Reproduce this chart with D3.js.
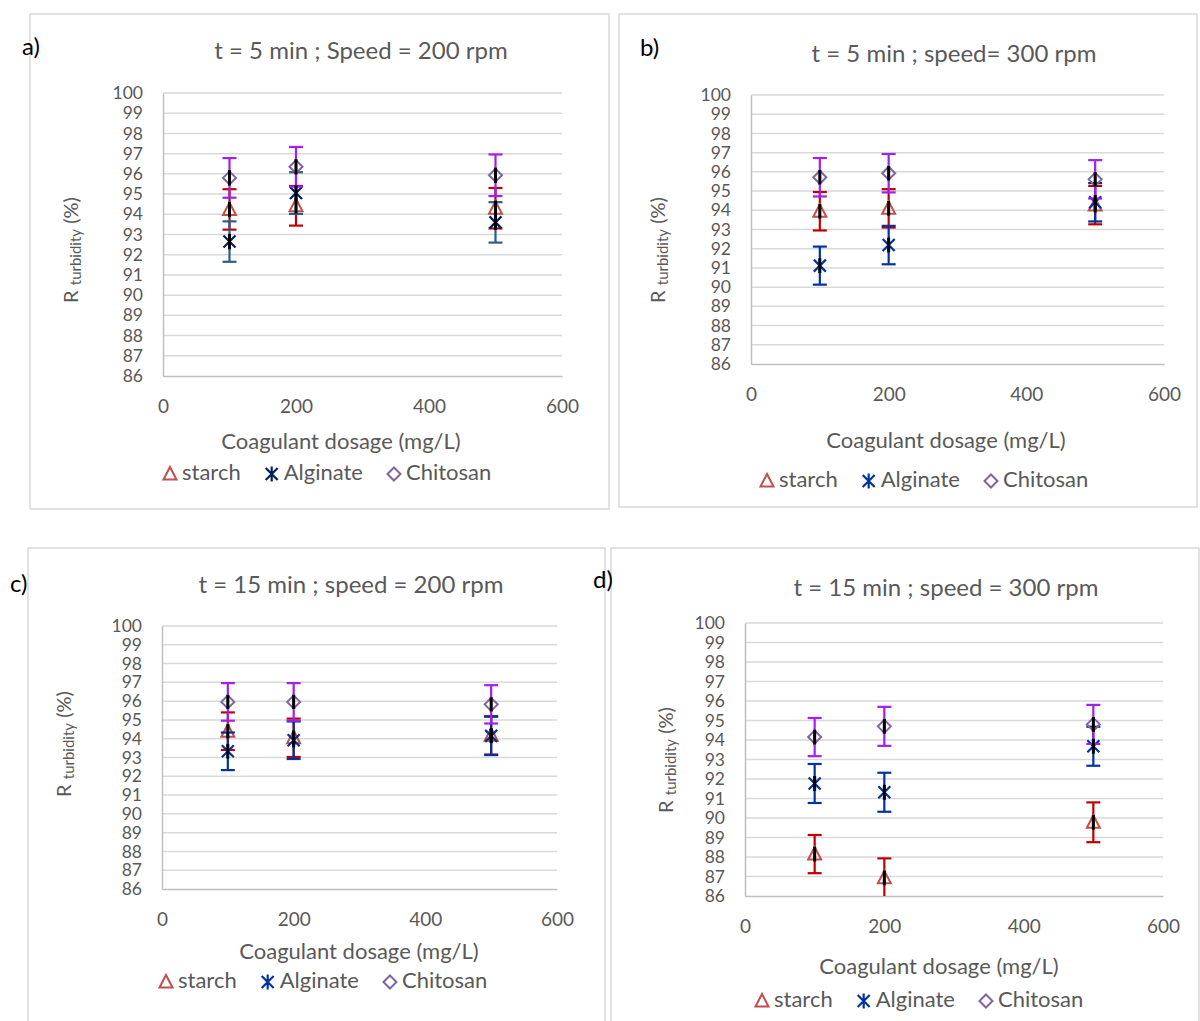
<!DOCTYPE html>
<html>
<head>
<meta charset="utf-8">
<script src="https://cdn.jsdelivr.net/npm/d3@7"></script>
<style>
  body { margin: 0; background: #fff; }
  text { font-family: Lato, "Open Sans", sans-serif; }
</style>
</head>
<body>
<svg id="chart"></svg>
<script>
// data
const dosage = [100, 200, 500];
const xTickValues = [0, 200, 400, 600];
const yTickValues = [86, 87, 88, 89, 90, 91, 92, 93, 94, 95, 96, 97, 98, 99, 100];
const seriesNames = ["starch", "Alginate", "Chitosan"];
const panelLetters = ["a)", "b)", "c)", "d)"];
const panelTitles = [
  "t = 5 min ; Speed = 200 rpm",
  "t = 5 min ; speed= 300 rpm",
  "t = 15 min ; speed = 200 rpm",
  "t = 15 min ; speed = 300 rpm"
];
const xAxisTitle = "Coagulant dosage (mg/L)";

// a) t = 5 min, 200 rpm
const starchA = [94.24, 94.42, 94.3];
const alginateA = [92.65, 95.05, 93.6];
const chitosanA = [95.8, 96.35, 95.93];
const starchErrA = [1.0, 0.98, 1.0];
const alginateErrA = [1.0, 1.03, 1.0];
const chitosanErrA = [0.98, 0.98, 1.03];

// b) t = 5 min, 300 rpm
const starchB = [93.95, 94.1, 94.27];
const alginateB = [91.12, 92.19, 94.42];
const chitosanB = [95.72, 95.93, 95.61];
const starchErrB = [1.0, 1.0, 1.0];
const alginateErrB = [0.99, 1.0, 1.0];
const chitosanErrB = [1.0, 1.0, 1.0];

// c) t = 15 min, 200 rpm
const starchC = [94.4, 94.05, 94.18];
const alginateC = [93.33, 93.92, 94.15];
const chitosanC = [95.96, 95.96, 95.83];
const starchErrC = [1.0, 1.02, 1.02];
const alginateErrC = [1.0, 1.0, 1.02];
const chitosanErrC = [1.0, 1.0, 1.02];

// d) t = 15 min, 300 rpm
const starchD = [88.15, 86.93, 89.78];
const alginateD = [91.77, 91.32, 93.68];
const chitosanD = [94.15, 94.7, 94.8];
const starchErrD = [0.98, 1.0, 1.02];
const alginateErrD = [1.0, 1.0, 1.0];
const chitosanErrD = [0.98, 1.0, 1.0];

const width = 1200, height = 1021;
const textColor = "#595959";

// layout per panel
const panels = [
  { letter: panelLetters[0], title: panelTitles[0],
    series: [[starchA, starchErrA], [alginateA, alginateErrA], [chitosanA, chitosanErrA]],
    frame: [30, 14, 609, 509], plot: [163, 93, 562, 376],
    letterPos: [22, 55], titlePos: [361, 59], xTitleY: 449, xTitleX: 341,
    yTitle: [73, 250], legend: [170, 474], alginateColor: "#002060", alginateErr: "#2e5c8a" },
  { letter: panelLetters[1], title: panelTitles[1],
    series: [[starchB, starchErrB], [alginateB, alginateErrB], [chitosanB, chitosanErrB]],
    frame: [619, 14, 1197, 507], plot: [751, 95, 1164, 364],
    letterPos: [640, 56], titlePos: [954, 62], xTitleY: 448, xTitleX: 946,
    yTitle: [660, 250], legend: [767, 481], alginateColor: "#0033a0", alginateErr: "#0033a0" },
  { letter: panelLetters[2], title: panelTitles[2],
    series: [[starchC, starchErrC], [alginateC, alginateErrC], [chitosanC, chitosanErrC]],
    frame: [28, 548, 605, 1030], plot: [162, 626, 557, 889],
    letterPos: [10, 592], titlePos: [351, 593], xTitleY: 959, xTitleX: 359,
    yTitle: [66, 744], legend: [166, 982], alginateColor: "#0033a0", alginateErr: "#0033a0" },
  { letter: panelLetters[3], title: panelTitles[3],
    series: [[starchD, starchErrD], [alginateD, alginateErrD], [chitosanD, chitosanErrD]],
    frame: [611, 548, 1199, 1030], plot: [745, 623, 1163, 896],
    letterPos: [593, 588], titlePos: [946, 596], xTitleY: 974, xTitleX: 939,
    yTitle: [668, 760], legend: [762, 1001], alginateColor: "#0033a0", alginateErr: "#0033a0" }
];

const svg = d3.select("#chart")
  .attr("width", width)
  .attr("height", height)
  .attr("viewBox", [0, 0, width, height]);

// marker shapes
function drawMarker(g, kind, color) {
  if (kind === 0) {
    g.append("path").attr("d", "M0,-7L6.5,5.5L-6.5,5.5Z")
      .attr("fill", "none").attr("stroke", color).attr("stroke-width", 2);
  } else if (kind === 1) {
    g.append("path").attr("d", "M-6,-6L6,6M-6,6L6,-6M0,-7.5L0,7.5")
      .attr("fill", "none").attr("stroke", color).attr("stroke-width", 2.2);
  } else {
    g.append("path").attr("d", "M0,-6.5L6.5,0L0,6.5L-6.5,0Z")
      .attr("fill", "none").attr("stroke", color).attr("stroke-width", 2);
  }
}

function drawPanel(p) {
  const [fx0, fy0, fx1, fy1] = p.frame;
  const [px0, py0, px1, py1] = p.plot;
  const g = svg.append("g");

  g.append("rect")
    .attr("x", fx0).attr("y", fy0)
    .attr("width", fx1 - fx0).attr("height", fy1 - fy0)
    .attr("fill", "#fff").attr("stroke", "#d9d9d9").attr("stroke-width", 1.5);

  const x = d3.scaleLinear([0, 600], [px0, px1]);
  const y = d3.scaleLinear([86, 100], [py1, py0]).clamp(true);

  // gridlines
  g.append("g").selectAll("line")
    .data(yTickValues.slice(1))
    .join("line")
    .attr("x1", px0).attr("x2", px1)
    .attr("y1", d => y(d)).attr("y2", d => y(d))
    .attr("stroke", "#d9d9d9").attr("stroke-width", 1.5);

  // y axis
  const yAxis = g.append("g")
    .attr("transform", `translate(${px0},0)`)
    .call(d3.axisLeft(y).tickValues(yTickValues).tickSize(0).tickPadding(20));
  yAxis.select(".domain").attr("stroke", "#bfbfbf").attr("stroke-width", 1.5);
  yAxis.selectAll(".tick text")
    .attr("fill", textColor).style("font-size", "17.5px")
    .style("font-family", "Lato, 'Open Sans', sans-serif");

  // x axis
  const xAxis = g.append("g")
    .attr("transform", `translate(0,${py1})`)
    .call(d3.axisBottom(x).tickValues(xTickValues).tickSize(0).tickPadding(24));
  xAxis.select(".domain").attr("stroke", "#bfbfbf").attr("stroke-width", 1.5);
  xAxis.selectAll(".tick text")
    .attr("fill", textColor).style("font-size", "19px")
    .style("font-family", "Lato, 'Open Sans', sans-serif");

  // titles
  g.append("text").attr("x", p.letterPos[0]).attr("y", p.letterPos[1])
    .attr("fill", "#000").style("font-size", "24px").text(p.letter);
  g.append("text").attr("x", p.titlePos[0]).attr("y", p.titlePos[1])
    .attr("text-anchor", "middle").attr("fill", textColor)
    .style("font-size", "24px").text(p.title);
  g.append("text").attr("x", p.xTitleX).attr("y", p.xTitleY)
    .attr("text-anchor", "middle").attr("fill", textColor)
    .style("font-size", "22px").text(xAxisTitle);

  const yt = g.append("text")
    .attr("transform", `translate(${p.yTitle[0]},${p.yTitle[1]}) rotate(-90)`)
    .attr("text-anchor", "middle").attr("dominant-baseline", "middle")
    .attr("fill", textColor).style("font-size", "20px");
  yt.append("tspan").text("R ");
  yt.append("tspan").attr("dy", 4).style("font-size", "15px").text("turbidity");
  yt.append("tspan").attr("dy", -4).text(" (%)");

  const colors = ["#c0504d", p.alginateColor, "#8064a2"];
  const errColors = ["#c00000", p.alginateErr, "#a020f0"];
  const dataG = g.append("g");

  p.series.forEach(([vals, errs], si) => {
    const pts = dosage.map((d, i) => ({ d, v: vals[i], e: errs[i] }));
    const eb = dataG.append("g").attr("stroke", errColors[si]).attr("stroke-width", 2.2);
    pts.forEach(pt => {
      const cx = x(pt.d);
      const top = y(pt.v + pt.e), bot = y(pt.v - pt.e);
      eb.append("line").attr("x1", cx).attr("x2", cx).attr("y1", top).attr("y2", bot);
      eb.append("line").attr("x1", cx - 7).attr("x2", cx + 7).attr("y1", top).attr("y2", top);
      if (pt.v - pt.e >= 86) {
        eb.append("line").attr("x1", cx - 7).attr("x2", cx + 7).attr("y1", bot).attr("y2", bot);
      }
    });
    pts.forEach(pt => {
      const m = dataG.append("g").attr("transform", `translate(${x(pt.d)},${y(pt.v)})`);
      drawMarker(m, si, colors[si]);
    });
  });

  // short black bars through the markers
  p.series.forEach(([vals]) => {
    dataG.append("g").selectAll("line")
      .data(dosage.map((d, i) => ({ d, v: vals[i] })))
      .join("line")
      .attr("x1", d => x(d.d)).attr("x2", d => x(d.d))
      .attr("y1", d => y(d.v + 0.38)).attr("y2", d => y(d.v - 0.38))
      .attr("stroke", "#000").attr("stroke-width", 3);
  });

  // legend
  const lg = g.append("g").attr("transform", `translate(${p.legend[0]},${p.legend[1]})`);
  let cursor = 0;
  seriesNames.forEach((name, si) => {
    const item = lg.append("g").attr("transform", `translate(${cursor},0)`);
    drawMarker(item.append("g"), si, colors[si]);
    const t = item.append("text").attr("x", 12).attr("y", 0)
      .attr("dominant-baseline", "middle").attr("fill", textColor)
      .style("font-size", "22px").text(name);
    cursor += 12 + t.node().getComputedTextLength() + 31;
  });
}

panels.forEach(drawPanel);
</script>
</body>
</html>
